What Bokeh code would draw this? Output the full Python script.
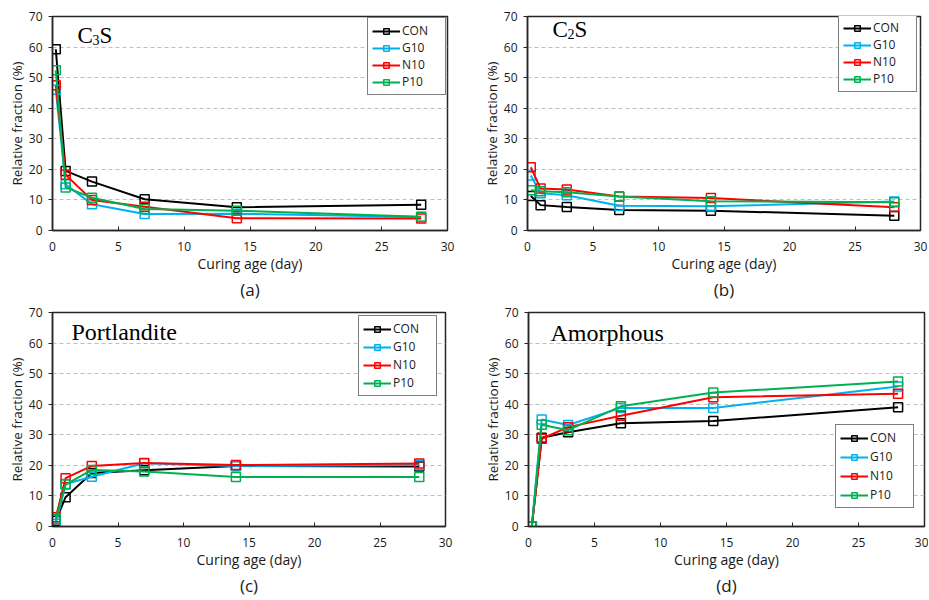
from bokeh.plotting import figure
from bokeh.layouts import column, row
from bokeh.models import Legend, LegendItem, Label, Title, FixedTicker, Range1d
from bokeh.embed import file_html
from bokeh.resources import INLINE

# ---------------- data ----------------
AGE = [0.25, 1, 3, 7, 14, 28]
SERIES = ["CON", "G10", "N10", "P10"]
COLORS = ["#000000", "#00B0F0", "#FF0000", "#00B050"]

C3S_CON = [59.3, 19.5, 16.0, 10.2, 7.6, 8.4]
C3S_G10 = [46.0, 15.1, 8.6, 5.4, 5.5, 4.4]
C3S_N10 = [47.5, 18.2, 10.0, 7.8, 4.0, 3.9]
C3S_P10 = [52.4, 14.1, 10.7, 7.0, 6.5, 4.5]

C2S_CON = [11.3, 8.3, 7.7, 6.7, 6.5, 4.8]
C2S_G10 = [18.0, 12.2, 11.5, 8.1, 7.9, 9.5]
C2S_N10 = [20.7, 13.7, 13.4, 11.1, 10.6, 7.6]
C2S_P10 = [13.2, 12.8, 12.5, 11.1, 9.6, 9.2]

PORT_CON = [1.9, 9.6, 17.5, 18.4, 19.8, 19.6]
PORT_G10 = [0.9, 13.9, 16.3, 20.7, 19.8, 20.1]
PORT_N10 = [3.0, 15.8, 19.8, 20.8, 20.1, 20.6]
PORT_P10 = [2.5, 13.7, 18.5, 18.0, 16.2, 16.2]

AMOR_CON = [0.0, 29.0, 30.8, 33.8, 34.5, 39.0]
AMOR_G10 = [0.0, 35.0, 33.2, 38.8, 38.8, 45.8]
AMOR_N10 = [0.0, 28.7, 32.5, 36.2, 42.3, 43.4]
AMOR_P10 = [0.0, 33.3, 31.5, 39.3, 43.8, 47.4]

X_TICKS = [0, 5, 10, 15, 20, 25, 30]
Y_TICKS = [0, 10, 20, 30, 40, 50, 60, 70]
X_LABEL = "Curing age (day)"
Y_LABEL = "Relative fraction (%)"

SANS = "Open Sans"
SERIF = "Liberation Serif"
AXC = "#262626"
TXT = "#1a1a1a"


def make_panel(values, caption, width, height, bl, br, bt, bb,
               leg_x, leg_y, row_gap, pad):
    p = figure(width=width, height=height, output_backend="svg",
               toolbar_location=None, x_range=Range1d(0, 30), y_range=Range1d(0, 70),
               min_border_left=bl, min_border_right=br, min_border_top=bt,
               min_border_bottom=bb)
    p.outline_line_color = AXC
    p.outline_line_width = 1.5
    p.outline_line_alpha = 1
    p.xgrid.visible = False
    p.ygrid.grid_line_color = "#bfbfbf"
    p.ygrid.grid_line_dash = "4 3"
    p.ygrid.grid_line_width = 1
    p.xaxis.ticker = FixedTicker(ticks=X_TICKS)
    p.yaxis.ticker = FixedTicker(ticks=Y_TICKS)
    for ax in (p.xaxis[0], p.yaxis[0]):
        ax.axis_line_color = AXC
        ax.axis_line_width = 1.5
        ax.major_tick_line_color = AXC
        ax.major_tick_line_width = 1
        ax.minor_tick_line_color = None
        ax.major_label_text_font = SANS
        ax.major_label_text_font_size = "12px"
        ax.major_label_text_color = TXT
        ax.axis_label_text_font = SANS
        ax.axis_label_text_font_size = "14px"
        ax.axis_label_text_font_style = "normal"
        ax.axis_label_text_color = TXT
    p.yaxis.axis_label_text_font_size = "13.5px"
    p.xaxis.major_tick_in = 4
    p.xaxis.major_tick_out = 0
    p.yaxis.major_tick_in = 0
    p.yaxis.major_tick_out = 4
    p.xaxis.major_label_standoff = 11
    p.yaxis.major_label_standoff = 6
    p.xaxis.axis_label = X_LABEL
    p.yaxis.axis_label = Y_LABEL
    p.xaxis.axis_label_standoff = 0
    p.yaxis.axis_label_standoff = 0

    items = []
    for name, col, vals in zip(SERIES, COLORS, values):
        ln = p.line(AGE, vals, line_color=col, line_width=2)
        sc = p.scatter(AGE, vals, marker="square", size=9, line_color=col,
                       line_width=1.5, fill_alpha=0)
        items.append(LegendItem(label=name, renderers=[ln, sc]))
    leg = Legend(items=items, location=(leg_x, leg_y))
    leg.border_line_color = "#000000"
    leg.border_line_width = 1.5
    leg.background_fill_color = "white"
    leg.background_fill_alpha = 1
    leg.glyph_width = 28
    leg.glyph_height = 14
    leg.label_height = 14
    leg.label_width = 39
    leg.label_standoff = 2
    leg.label_text_font = SANS
    leg.label_text_font_size = "12px"
    leg.label_text_color = TXT
    leg.padding = pad
    leg.spacing = row_gap
    leg.margin = 0
    p.add_layout(leg, "center")

    cap = Title(text=caption, align="center", text_font=SANS,
                text_font_size="17px", text_font_style="normal",
                text_color=TXT, standoff=0)
    p.add_layout(cap, "below")
    return p


def add_title(p, parts, x0, y0):
    for text, size, dx, dy in parts:
        p.add_layout(Label(x=x0 + dx, y=y0 + dy, x_units="screen", y_units="screen",
                           text=text, text_font=SERIF, text_font_size=size,
                           text_baseline="alphabetic", text_color="#000000"))


pa = make_panel([C3S_CON, C3S_G10, C3S_N10, C3S_P10], "(a)",
                464, 300, 52, 17, 16, 69, 315, 135, 0, 4)
add_title(pa, [("C", "23px", 0, 0), ("3", "14px", 15, -4), ("S", "23px", 22, 0)], 25, 195)

pb = make_panel([C2S_CON, C2S_G10, C2S_N10, C2S_P10], "(b)",
                464, 300, 63, 8, 16, 65, 311, 138, 0, 4)
add_title(pb, [("C", "23px", 0, 0), ("2", "14px", 15, -4), ("S", "23px", 22, 0)], 25, 201)

pc = make_panel([PORT_CON, PORT_G10, PORT_N10, PORT_P10], "(c)",
                464, 299, 52, 19, 11, 70, 306, 130, 1, 4)
add_title(pc, [("Portlandite", "24px", 0, 0)], 19, 195)

pd = make_panel([AMOR_CON, AMOR_G10, AMOR_N10, AMOR_P10], "(d)",
                464, 299, 64, 4, 12, 73, 307, 18, 2, 4)
add_title(pd, [("Amorphous", "24px", 0, 0)], 22, 194)

layout = column(row(pa, pb), row(pc, pd))
open("out.html", "w").write(file_html(layout, INLINE))
